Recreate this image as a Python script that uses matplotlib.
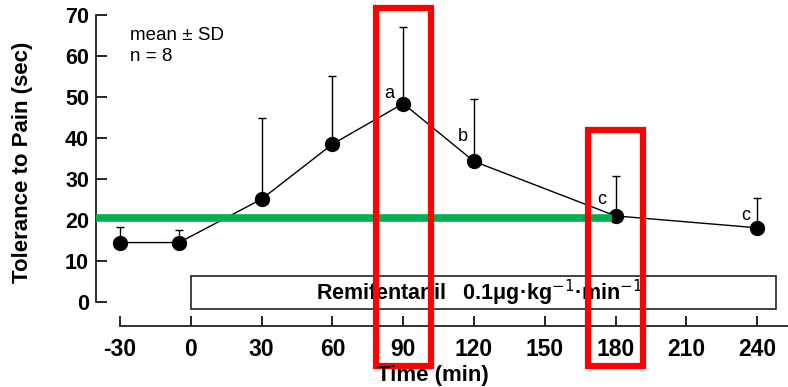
import matplotlib
matplotlib.use("Agg")
import matplotlib.pyplot as plt
from matplotlib.patches import Rectangle
import numpy as np

# data
time = [-30, -5, 30, 60, 90, 120, 180, 240]
tolerance = [14.5, 14.5, 25.1, 38.5, 48.4, 34.3, 21.0, 18.1]
sd_upper = [3.8, 3.0, 19.9, 16.7, 18.6, 15.1, 9.7, 7.2]
xticks = [-30, 0, 30, 60, 90, 120, 150, 180, 210, 240]
yticks = [0, 10, 20, 30, 40, 50, 60, 70]
sig_labels = {90: "a", 120: "b", 180: "c", 240: "c"}
sig_offsets = {90: (-10, 7), 120: (-8, 18), 180: (-10, 12), 240: (-8, 9)}

# infusion bar
infusion_start, infusion_end = 0, 248
infusion_text = "Remifentanil   0.1\u03bcg\u00b7kg$^{-1}$\u00b7min$^{-1}$"

# overlay marks (red boxes around 90 and 180 min, green level line)
highlight_times = [90, 180]
highlight_tops = [71.7, 42.0]
highlight_halfwidth = 11.7
highlight_bottom = -15.6
green_level = 20.6

plt.rcParams['font.family'] = ['Liberation Sans', 'DejaVu Sans']
plt.rcParams['axes.unicode_minus'] = False

fig = plt.figure(figsize=(7.88, 3.87), dpi=100)
ax = fig.add_axes([96 / 788, 1 - 325.7 / 387, 1 - 96 / 788, (325.7 - 15) / 387])

ax.errorbar(time, tolerance, yerr=[np.zeros(len(sd_upper)), sd_upper],
            fmt='o-', color='black', ms=10, lw=1.0, elinewidth=1.0,
            capsize=3, capthick=1.0, zorder=3)

for t, lab in sig_labels.items():
    i = time.index(t)
    ax.annotate(lab, (t, tolerance[i]), xytext=sig_offsets[t],
                textcoords='offset points', ha='center', va='center',
                fontsize=13)

ax.text(-25.8, 65.1, "mean \u00b1 SD", fontsize=13.5, va='center', ha='left')
ax.text(-25.8, 60.0, "n = 8", fontsize=13.5, va='center', ha='left')

ax.add_patch(Rectangle((infusion_start, -1.6), infusion_end - infusion_start, 7.9,
                       fill=False, edgecolor='#222222', lw=1.2, clip_on=False))
ax.text(53.0, 2.3, infusion_text, fontsize=15.5, fontweight='bold',
        va='center', ha='left')

ax.set_xlim(-40.2, 253.1)
ax.set_ylim(-5.78, 70)
ax.set_xticks(xticks)
ax.set_yticks(yticks)
ax.tick_params(axis='x', direction='in', length=7, width=1.2, pad=9,
               labelsize=16.5)
ax.tick_params(axis='y', direction='in', length=8, width=1.2, pad=5,
               labelsize=15.5)
for lab in ax.get_xticklabels() + ax.get_yticklabels():
    lab.set_fontweight('bold')

ax.spines['top'].set_visible(False)
ax.spines['right'].set_visible(False)
ax.spines['left'].set_bounds(0, 70)
ax.spines['bottom'].set_bounds(-30, 253.1)
for s in ('left', 'bottom'):
    ax.spines[s].set_linewidth(1.3)
    ax.spines[s].set_color('#222222')

fig.text(23 / 788, 1 - 162 / 387, "Tolerance to Pain (sec)", rotation=90,
         fontsize=16, fontweight='bold', ha='center', va='center')
fig.text(433 / 788, 1 / 387, "Time (min)", fontsize=16,
         fontweight='bold', ha='center', va='bottom')

# overlays
for t, top in zip(highlight_times, highlight_tops):
    ax.add_patch(Rectangle((t - highlight_halfwidth, highlight_bottom),
                           2 * highlight_halfwidth, top - highlight_bottom,
                           fill=False, edgecolor='#ff0000', lw=4.5,
                           clip_on=False, zorder=5))
ax.plot([-40.2, 178.6], [green_level, green_level], color='#00b050', lw=5.5,
        solid_capstyle='butt', clip_on=False, zorder=4)

fig.savefig("out.png", dpi=100)
